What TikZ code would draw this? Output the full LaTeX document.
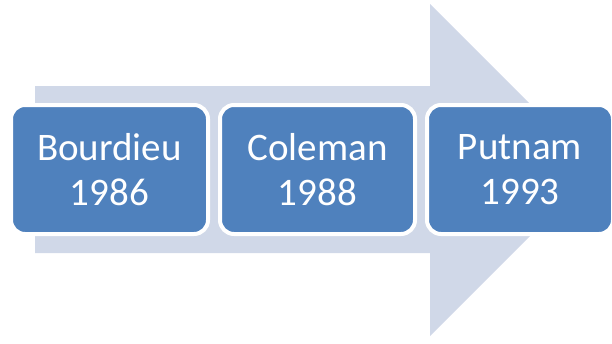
\documentclass[tikz,border=0pt]{standalone}
\usepackage{fontspec}
\setmainfont{Carlito}
\definecolor{arrowfill}{HTML}{D0D8E8}
\definecolor{boxfill}{HTML}{4F81BD}
\tikzset{
  stagebox/.style={draw=white, line width=4pt, fill=boxfill, rounded corners=14pt,
    minimum height=129pt, align=center, text=white, inner sep=0pt,
    font=\fontsize{39pt}{45pt}\selectfont},
}
\begin{document}
\begin{tikzpicture}[x=1pt,y=-1pt]
\useasboundingbox (0,0) rectangle (612,343);
\clip (0,0) rectangle (612,343);
\fill[arrowfill] (35,86) -- (430,86) -- (430,4) -- (596,170) -- (430,336) -- (430,253) -- (35,253) -- cycle;
\node[stagebox, minimum width=197pt] (b1) at (109.5,169.5) {Bourdieu\\1986};
\node[stagebox, minimum width=195pt] (b2) at (317.5,169.5) {Coleman\\1988};
\node[stagebox, minimum width=186pt] (b3) at (520,169.5) {Putnam\\1993};
\end{tikzpicture}
\end{document}
